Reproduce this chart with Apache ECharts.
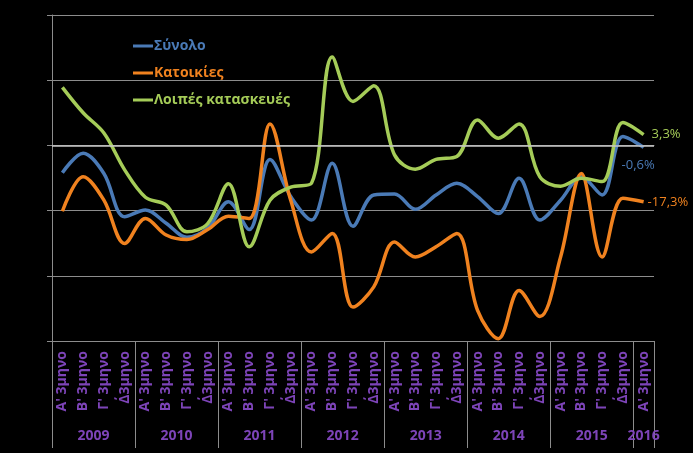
<!DOCTYPE html>
<html>
<head>
<meta charset="utf-8">
<script src="https://cdn.jsdelivr.net/npm/echarts@6/dist/echarts.min.js"></script>
<style>
html,body{margin:0;padding:0;background:#000;}
#chart{width:693px;height:453px;}
</style>
</head>
<body>
<div id="chart"></div>
<script>
var quarterNames = ["Α' 3μηνο", "Β' 3μηνο", "Γ' 3μηνο", "Δ΄3μηνο"];
var years = ["2009", "2010", "2011", "2012", "2013", "2014", "2015", "2016"];
var categories = [];
for (var y = 0; y < 7; y++) { for (var q = 0; q < 4; q++) categories.push(quarterNames[q]); }
categories.push(quarterNames[0]);

var totalValues = [-8.4, -2.4, -8.6, -21.9, -19.8, -23.9, -28.2, -25.4, -17.3, -25.8, -4.3, -15.7, -22.9, -5.5,
  -24.8, -15.2, -14.9, -19.6, -15.2, -11.6, -15.7, -20.9, -10.1, -22.9, -16.8, -9.6, -15.2, 2.7, -0.6];
var housingValues = [-20.2, -9.6, -16.8, -30.1, -22.4, -27.5, -28.9, -25.8, -21.7, -22.4, 6.6, -16.8, -32.7, -27.0,
  -49.6, -43.4, -29.6, -34.2, -31.1, -27.0, -50.6, -59.3, -44.5, -52.5, -34.2, -8.6, -34.2, -16.2, -17.3];
var otherValues = [17.8, 10.0, 3.8, -7.5, -15.9, -18.3, -26.5, -24.0, -11.8, -31.1, -16.8, -12.8, -11.6, 27.1,
  13.5, 18.3, -2.9, -7.3, -4.3, -3.4, 7.8, 2.2, 6.6, -9.6, -12.5, -10.1, -11.1, 7.0, 3.3];

var seriesNames = ["Σύνολο", "Κατοικίες", "Λοιπές κατασκευές"];
var colors = ["#4a7ab6", "#f0821f", "#a5cc58"];

// half-quarter axis for year separators and year labels
var yearAxisData = [];
for (var j = 0; j <= 58; j++) yearAxisData.push("");
for (var k = 0; k < 7; k++) yearAxisData[4 + 8 * k] = years[k];
yearAxisData[57] = years[7];

function pct(v) { return v.toFixed(1).replace('.', ',') + '%'; }
function endLabel(color, dist, offset) {
  return { show: true, color: color, fontFamily: font, fontSize: 13, distance: dist, offset: offset,
    formatter: function (p) { return pct(Array.isArray(p.value) ? p.value[1] : p.value); } };
}

var font = "'Open Sans', sans-serif";
var chart = echarts.init(document.getElementById('chart'));
chart.setOption({
  backgroundColor: '#000',
  animation: false,
  grid: { left: 52, right: 39, top: 15, bottom: 112 },
  legend: {
    orient: 'vertical', left: 128, top: 34, itemGap: 13,
    icon: 'rect', itemWidth: 20, itemHeight: 3,
    textStyle: { fontFamily: font, fontSize: 14, fontWeight: 'bold', padding: [0, 0, 0, -4] },
    data: seriesNames.map(function (n, i) { return { name: n, textStyle: { color: colors[i] } }; })
  },
  xAxis: [{
    type: 'category', data: categories, boundaryGap: true,
    axisLine: { show: true, lineStyle: { color: '#8c8c8c', width: 1 } },
    axisTick: { show: false },
    axisLabel: { interval: 0, rotate: 90, margin: 10, color: '#7d44b8', fontFamily: font, fontSize: 14, fontWeight: 'bold' }
  }, {
    type: 'category', data: yearAxisData, boundaryGap: false, position: 'bottom',
    axisLine: { show: false },
    axisTick: { show: true, length: 107, lineStyle: { color: '#8c8c8c', width: 1 },
      interval: function (i) { return i % 8 === 0 || i === 56 || i === 58; } },
    axisLabel: { interval: 0, margin: 88, color: '#7d44b8', fontFamily: font, fontSize: 14, fontWeight: 'bold', hideOverlap: false }
  }],
  yAxis: {
    type: 'value', min: -60, max: 40, interval: 20,
    axisLine: { show: true, lineStyle: { color: '#8c8c8c' } },
    axisTick: { show: true, length: 5, lineStyle: { color: '#8c8c8c' } },
    axisLabel: { show: false },
    splitLine: { show: true, lineStyle: { color: '#8c8c8c', width: 1 } }
  },
  series: [{
    name: seriesNames[0], type: 'line', smooth: 0.35, symbol: 'none', xAxisIndex: 0,
    lineStyle: { width: 3.5, color: colors[0] }, itemStyle: { color: colors[0] },
    endLabel: endLabel(colors[0], 0, [-22, 18]),
    data: totalValues,
    markLine: { silent: true, symbol: 'none', label: { show: false },
      lineStyle: { color: '#c8c8c8', width: 1.5, type: 'solid' }, data: [{ yAxis: 0 }] }
  }, {
    name: seriesNames[1], type: 'line', smooth: 0.35, symbol: 'none', xAxisIndex: 0,
    lineStyle: { width: 3.5, color: colors[1] }, itemStyle: { color: colors[1] },
    endLabel: endLabel(colors[1], 4, [0, 0]),
    data: housingValues
  }, {
    name: seriesNames[2], type: 'line', smooth: 0.35, symbol: 'none', xAxisIndex: 0,
    lineStyle: { width: 3.5, color: colors[2] }, itemStyle: { color: colors[2] },
    endLabel: endLabel(colors[2], 8, [0, 0]),
    data: otherValues
  }]
});
</script>
</body>
</html>
